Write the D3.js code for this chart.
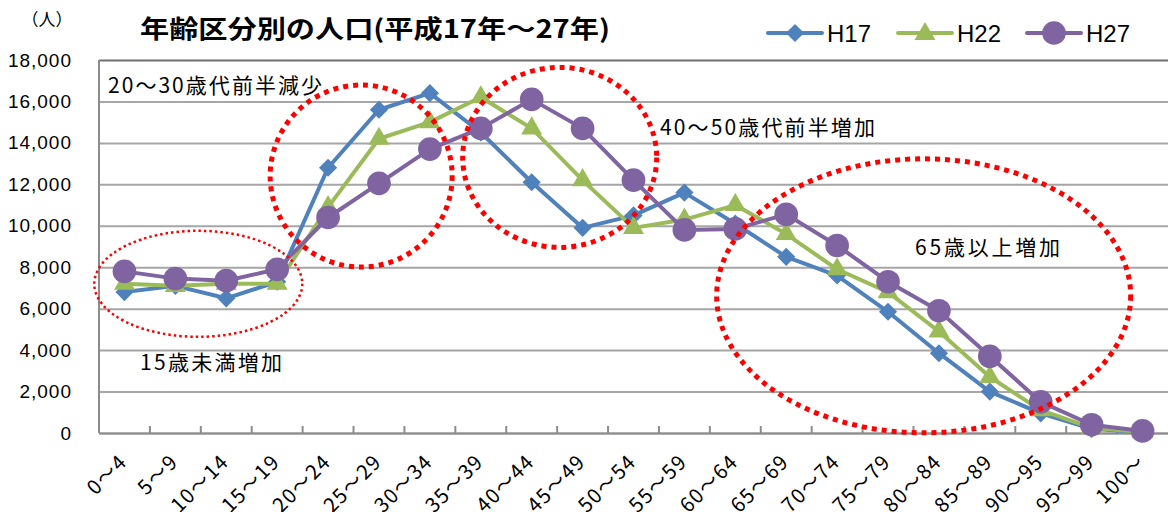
<!DOCTYPE html>
<html>
<head>
<meta charset="utf-8">
<script src="https://cdn.jsdelivr.net/npm/d3@7"></script>
<style>
  body { margin: 0; background: #fff; }
  svg { display: block; }
  text { font-family: "Noto Sans CJK JP", sans-serif; fill: #000; }
  .num { font-family: "Liberation Sans", "Noto Sans CJK JP", sans-serif; }
</style>
</head>
<body>
<div id="chart"></div>
<script>
// age groups (as printed in the chart)
const ages = ["0～4","5～9","10～14","15～19","20～24","25～29","30～34","35～39","40～44","45～49",
  "50～54","55～59","60～64","65～69","70～74","75～79","80～84","85～89","90～95","95～99","100～"];

const h17 = [6800,7100,6500,7300,12800,15600,16400,14500,12100,9900,10500,11600,10100,8500,7600,5850,3850,2000,950,200,30];
const h22 = [7200,7100,7200,7200,10900,14200,15000,16200,14700,12200,9900,10300,11000,9600,7900,6800,4900,2700,1100,250,50];
const h27 = [7800,7450,7350,7900,10400,12050,13700,14700,16100,14700,12200,9800,9850,10550,9050,7300,5900,3700,1500,400,100];

const seriesNames = ["H17","H22","H27"];
const yTicks = [0,2000,4000,6000,8000,10000,12000,14000,16000,18000];

const notes = [
  {text: "20～30歳代前半減少", x: 108, y: 93, len: 214},
  {text: "40～50歳代前半増加", x: 660, y: 135, len: 215},
  {text: "65歳以上増加", x: 915, y: 255, len: 145},
  {text: "15歳未満増加", x: 140, y: 370, len: 142}
];
// ellipses: centre given as age index / value
const rings = [
  {cx: 1.45, cy: 7200, rx: 104, ry: 53, thick: false},
  {cx: 4.65, cy: 12400, rx: 91, ry: 91, thick: true},
  {cx: 8.55, cy: 13300, rx: 97, ry: 90, thick: true},
  {cx: 15.7, cy: 6620, rx: 207, ry: 137, thick: true}
];

const W = 1168, H = 512;
const mLeft = 99, mRight = 1168, mTop = 60, mBottom = 433;

const svg = d3.select("#chart").append("svg").attr("width", W).attr("height", H);

const x = d3.scaleBand().domain(ages).range([mLeft, mRight]).padding(0);
const y = d3.scaleLinear().domain([0, 18000]).range([mBottom, mTop]);

// y axis + gridlines
const yAxis = svg.append("g")
  .attr("transform", "translate(" + mLeft + ",0)")
  .call(d3.axisLeft(y).tickValues(yTicks).tickFormat(d3.format(",")).tickSize(-(mRight - mLeft)).tickPadding(27));
yAxis.select(".domain").remove();
yAxis.selectAll(".tick line").attr("stroke", "#a6a6a6").attr("stroke-width", 2);
yAxis.selectAll(".tick text").attr("class", "num").style("font-size", "19px").style("letter-spacing", "1px");
yAxis.selectAll(".tick").filter(d => d === 18000).select("line").attr("stroke", "#6e6e6e");

svg.append("line").attr("x1", mLeft).attr("x2", mLeft).attr("y1", mTop).attr("y2", mBottom)
  .attr("stroke", "#8c8c8c").attr("stroke-width", 2);

// x axis
const xAxis = svg.append("g")
  .attr("transform", "translate(0," + mBottom + ")")
  .call(d3.axisBottom(x).tickSize(0).tickFormat(""));
xAxis.select(".domain").attr("stroke", "#8c8c8c").attr("stroke-width", 2);
svg.append("g").selectAll("line")
  .data(ages.slice(1))
  .enter().append("line")
  .attr("x1", d => x(d)).attr("x2", d => x(d))
  .attr("y1", mBottom).attr("y2", mBottom - 7)
  .attr("stroke", "#8c8c8c").attr("stroke-width", 2);

svg.append("g").selectAll("text")
  .data(ages)
  .enter().append("text")
  .attr("transform", d => "translate(" + (x(d) + x.bandwidth() / 2 + 4) + "," + (mBottom + 30) + ") rotate(-45)")
  .attr("text-anchor", "end")
  .style("font-size", "20px")
  .style("letter-spacing", "1.5px")
  .text(d => d);

// unit + title
svg.append("text").attr("x", 47).attr("y", 26).attr("text-anchor", "middle")
  .style("font-size", "17px").text("（人）");
svg.append("text").attr("x", 140).attr("y", 38)
  .attr("textLength", 470).attr("lengthAdjust", "spacingAndGlyphs")
  .style("font-size", "25px").style("font-weight", "bold")
  .text("年齢区分別の人口(平成17年～27年)");

// series
const colors = ["#4f81bd", "#9bbb59", "#8064a2"];
const symbols = [
  d3.symbol().type(d3.symbolSquare).size(165),
  d3.symbol().type(d3.symbolTriangle).size(190),
  d3.symbol().type(d3.symbolCircle).size(440)
];
const rot = [45, 0, 0];
const data = [h17, h22, h27];

const line = d3.line()
  .x((d, i) => x(ages[i]) + x.bandwidth() / 2)
  .y(d => y(d));

data.forEach((vals, s) => {
  const g = svg.append("g");
  g.append("path").datum(vals)
    .attr("d", line)
    .attr("fill", "none").attr("stroke", colors[s]).attr("stroke-width", 4).attr("stroke-linejoin", "round");
  g.selectAll("path.m").data(vals).enter().append("path").attr("class", "m")
    .attr("d", symbols[s])
    .attr("transform", (d, i) => "translate(" + (x(ages[i]) + x.bandwidth() / 2) + "," + y(d) + ") rotate(" + rot[s] + ")")
    .attr("fill", colors[s]);
});

// legend
const legendX = [768, 898, 1027];
seriesNames.forEach((name, s) => {
  const g = svg.append("g").attr("transform", "translate(" + legendX[s] + ",33)");
  g.append("line").attr("x1", 0).attr("x2", 54).attr("stroke", colors[s]).attr("stroke-width", 4).attr("stroke-linecap", "round");
  g.append("path").attr("d", symbols[s]).attr("transform", "translate(27," + (s === 1 ? 1 : 0) + ") rotate(" + rot[s] + ")").attr("fill", colors[s]);
  g.append("text").attr("class", "num").attr("x", 59).attr("y", 9).style("font-size", "24px").text(name);
});

// red dotted rings
const xi = i => mLeft + (i + 0.5) * x.bandwidth();
svg.append("g").selectAll("ellipse")
  .data(rings)
  .enter().append("ellipse")
  .attr("cx", d => xi(d.cx)).attr("cy", d => y(d.cy))
  .attr("rx", d => d.rx).attr("ry", d => d.ry)
  .attr("fill", "none").attr("stroke", "#ff0000")
  .attr("stroke-width", d => d.thick ? 5 : 2.5)
  .attr("stroke-dasharray", d => d.thick ? "5,5" : "2.5,3");

// notes
svg.append("g").selectAll("text")
  .data(notes)
  .enter().append("text")
  .attr("x", d => d.x).attr("y", d => d.y)
  .attr("textLength", d => d.len).attr("lengthAdjust", "spacing")
  .style("font-size", "21px")
  .text(d => d.text);
</script>
</body>
</html>
